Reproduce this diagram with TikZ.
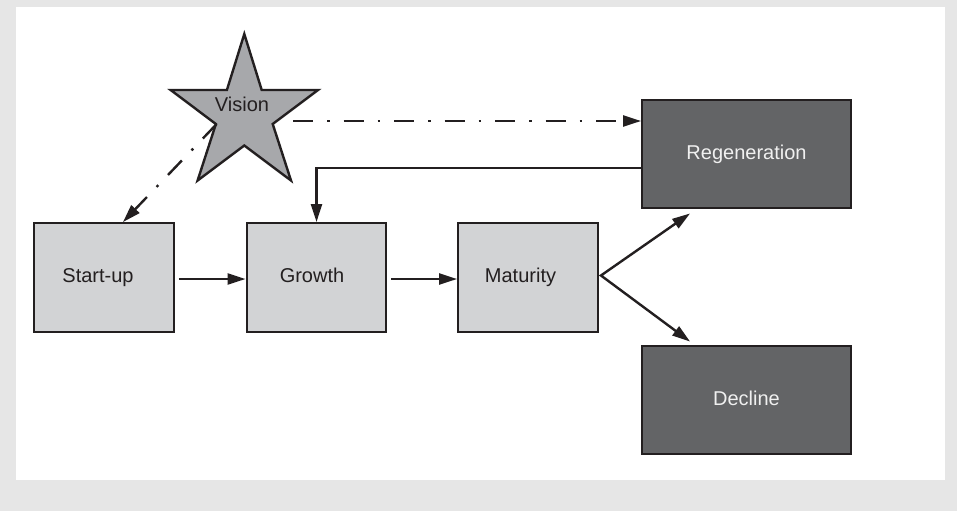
\documentclass[tikz,border=0pt]{standalone}
\usepackage{fontspec}
\setmainfont{Liberation Sans}
\usetikzlibrary{arrows.meta,calc}

\definecolor{pagegray}{RGB}{230,230,230}
\definecolor{ink}{RGB}{35,31,32}
\definecolor{lightfill}{RGB}{210,211,213}
\definecolor{darkfill}{RGB}{99,100,102}
\definecolor{starfill}{RGB}{167,168,171}
\definecolor{paletext}{RGB}{240,240,240}

\begin{document}
\begin{tikzpicture}[x=1pt,y=-1pt,
  line width=2.4pt,
  label text/.style={font=\fontsize{20}{24}\selectfont},
  lightbox/.style={label text, draw=ink, fill=lightfill, minimum width=139.5pt,
    minimum height=108.5pt, inner sep=0pt, text=ink, text height=14pt, text depth=4pt},
  darkbox/.style={lightbox, fill=darkfill, text=paletext, minimum width=208.5pt},
  tip/.tip={Triangle[length=18pt,width=11pt]},
  flow/.style={draw=ink, -tip},
  dashdot/.style={flow, dash pattern=on 20pt off 14pt on 2.5pt off 14pt},
]
% page and panel
\useasboundingbox (0,0) rectangle (957,511);
\fill[pagegray] (0,0) rectangle (957,511);
\fill[white] (16,7) rectangle (945,480);

% the vision star
\draw[draw=ink, fill=starfill, line join=miter]
  (244.3,34) -- (261.7,90) -- (318,90) -- (272.7,124) -- (291,180.5)
  -- (244.3,145.5) -- (197.6,180.5) -- (215.9,124) -- (170.6,90) -- (226.9,90) -- cycle;
\node[label text, text=ink, inner sep=0pt] (vision) at (242,104) {Vision};
\coordinate (vleft) at (216.7,124);
\coordinate (vright) at (293,121);

% stages
\node[lightbox] (s) at (104,277.5) {\hspace*{-12pt}Start-up};
\node[lightbox] (g) at (316.5,277.5) {\hspace*{-9pt}Growth};
\node[lightbox] (m) at (528,277.5) {\hspace*{-15pt}Maturity};
\node[darkbox] (r) at (746.5,154) {Regeneration};
\node[darkbox] (d) at (746.5,400) {Decline};

% connectors
\draw[dashdot] (vright) -- (vright -| r.west);
\draw[dashdot] (vleft) -- ($(s.north)+(19,0)$);
\draw[flow] ($(s.east)+(4,1.5)$) -- ($(g.west)+(0,1.5)$);
\draw[flow] ($(g.east)+(4,1.5)$) -- ($(m.west)+(0,1.5)$);
\draw[flow] ($(r.west)+(0,14)$) -| (g.north);
\coordinate (fork) at ($(m.east)+(2,-2)$);
\draw[draw=ink, tip-tip, line join=miter]
  ($(r.south west)+(49,4)$) -- (fork) -- ($(d.north west)+(49,-3)$);
\end{tikzpicture}
\end{document}
